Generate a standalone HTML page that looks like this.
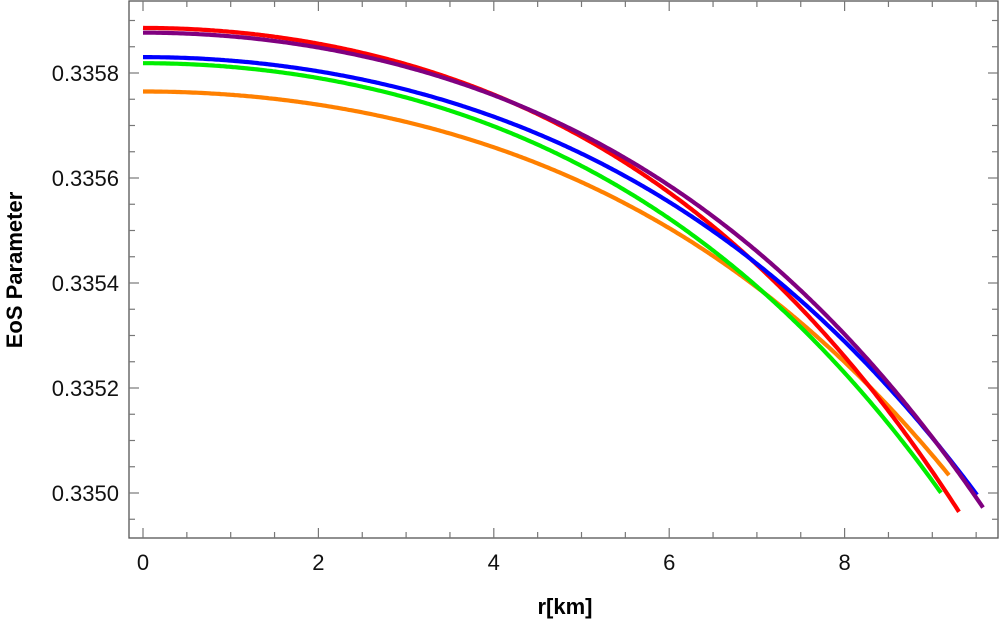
<!DOCTYPE html>
<html><head><meta charset="utf-8"><style>
body{margin:0;background:#fff}
svg{display:block;font-family:"Liberation Sans",Arial,sans-serif}
</style></head><body>
<svg id="s" width="1000" height="622" viewBox="0 0 1000 622" xmlns="http://www.w3.org/2000/svg">
<rect x="129" y="1" width="869" height="537" fill="none" stroke="#555" stroke-width="1.3"/>
<g id="ticks" stroke="#777" stroke-width="1.2"></g>
<g id="labels" font-size="22" fill="#111"></g>
<g id="curves" fill="none" stroke-width="4.2" stroke-linecap="butt" stroke-linejoin="round"></g>
<text x="565" y="614" font-size="22" font-weight="bold" text-anchor="middle">r[km]</text>
<text transform="translate(22,270) rotate(-90)" font-size="22" font-weight="bold" text-anchor="middle">EoS Parameter</text>
</svg>
<script>
var ns="http://www.w3.org/2000/svg";
function el(p,t,a,txt){var e=document.createElementNS(ns,t);for(var k in a)e.setAttribute(k,a[k]);if(txt)e.textContent=txt;document.getElementById(p).appendChild(e);}
var x0=143,dx=87.7;
for(var i=0;i<=19;i++){var x=x0+i*dx/2;if(x>997)break;var L=(i%4==0)?10:6;
el("ticks","line",{x1:x,y1:538,x2:x,y2:538-L});el("ticks","line",{x1:x,y1:1,x2:x,y2:1+L});
if(i%4==0)el("labels","text",{x:x,y:570,"text-anchor":"middle"},String(i/2));}
var ys=["0.3358","0.3356","0.3354","0.3352","0.3350"];
for(var j=-2;j<=18;j++){var y=73+j*26.25;if(y<2||y>537)continue;var L=(j%4==0)?10:6;
el("ticks","line",{x1:129,y1:y,x2:129+L,y2:y});el("ticks","line",{x1:998,y1:y,x2:998-L,y2:y});
if(j%4==0)el("labels","text",{x:119,y:y+8,"text-anchor":"end"},ys[j/4]);}
var data=[
["#ff8000",[[143,91],[250,96],[450,135],[550,170],[600,195],[800,320],[850,362],[950,477]]],
["#00ee00",[[143,63],[250,69],[450,111],[550,150],[600,178],[800,325],[850,378],[941,493]]],
["#ff0000",[[143,28],[250,33],[450,79],[550,115],[600,153],[800,308],[850,360],[959,512]]],
["#0000ff",[[143,57],[250,62],[450,103],[550,138],[600,165],[800,300],[850,345],[977,495]]],
["#800080",[[143,32],[250,38],[450,82],[550,118],[600,152],[800,285],[850,337],[983,508]]]];
function solve(A,b){var n=3;for(var i=0;i<n;i++){for(var k=i+1;k<n;k++){var f=A[k][i]/A[i][i];for(var j=i;j<n;j++)A[k][j]-=f*A[i][j];b[k]-=f*b[i];}}
var x=[0,0,0];for(var i=n-1;i>=0;i--){var s=b[i];for(var j=i+1;j<n;j++)s-=A[i][j]*x[j];x[i]=s/A[i][i];}return x;}
data.forEach(function(d){var p=d[1],A=[[0,0,0],[0,0,0],[0,0,0]],B=[0,0,0];
p.forEach(function(q,idx){var r=(q[0]-x0)/dx,f=[1,r*r,r*r*r*r],w=(idx==0||idx==p.length-1)?6:1;
for(var i=0;i<3;i++){B[i]+=w*f[i]*q[1];for(var j=0;j<3;j++)A[i][j]+=w*f[i]*f[j];}});
var c=solve(A,B),xe=p[p.length-1][0],s="";
for(var x=x0;x<=xe+0.01;x+=2){var xx=Math.min(x,xe),r=(xx-x0)/dx,y=c[0]+c[1]*r*r+c[2]*r*r*r*r;s+=(s?" L":"M")+xx.toFixed(1)+","+y.toFixed(1);}
el("curves","path",{d:s,stroke:d[0]});});
</script>
</body></html>
